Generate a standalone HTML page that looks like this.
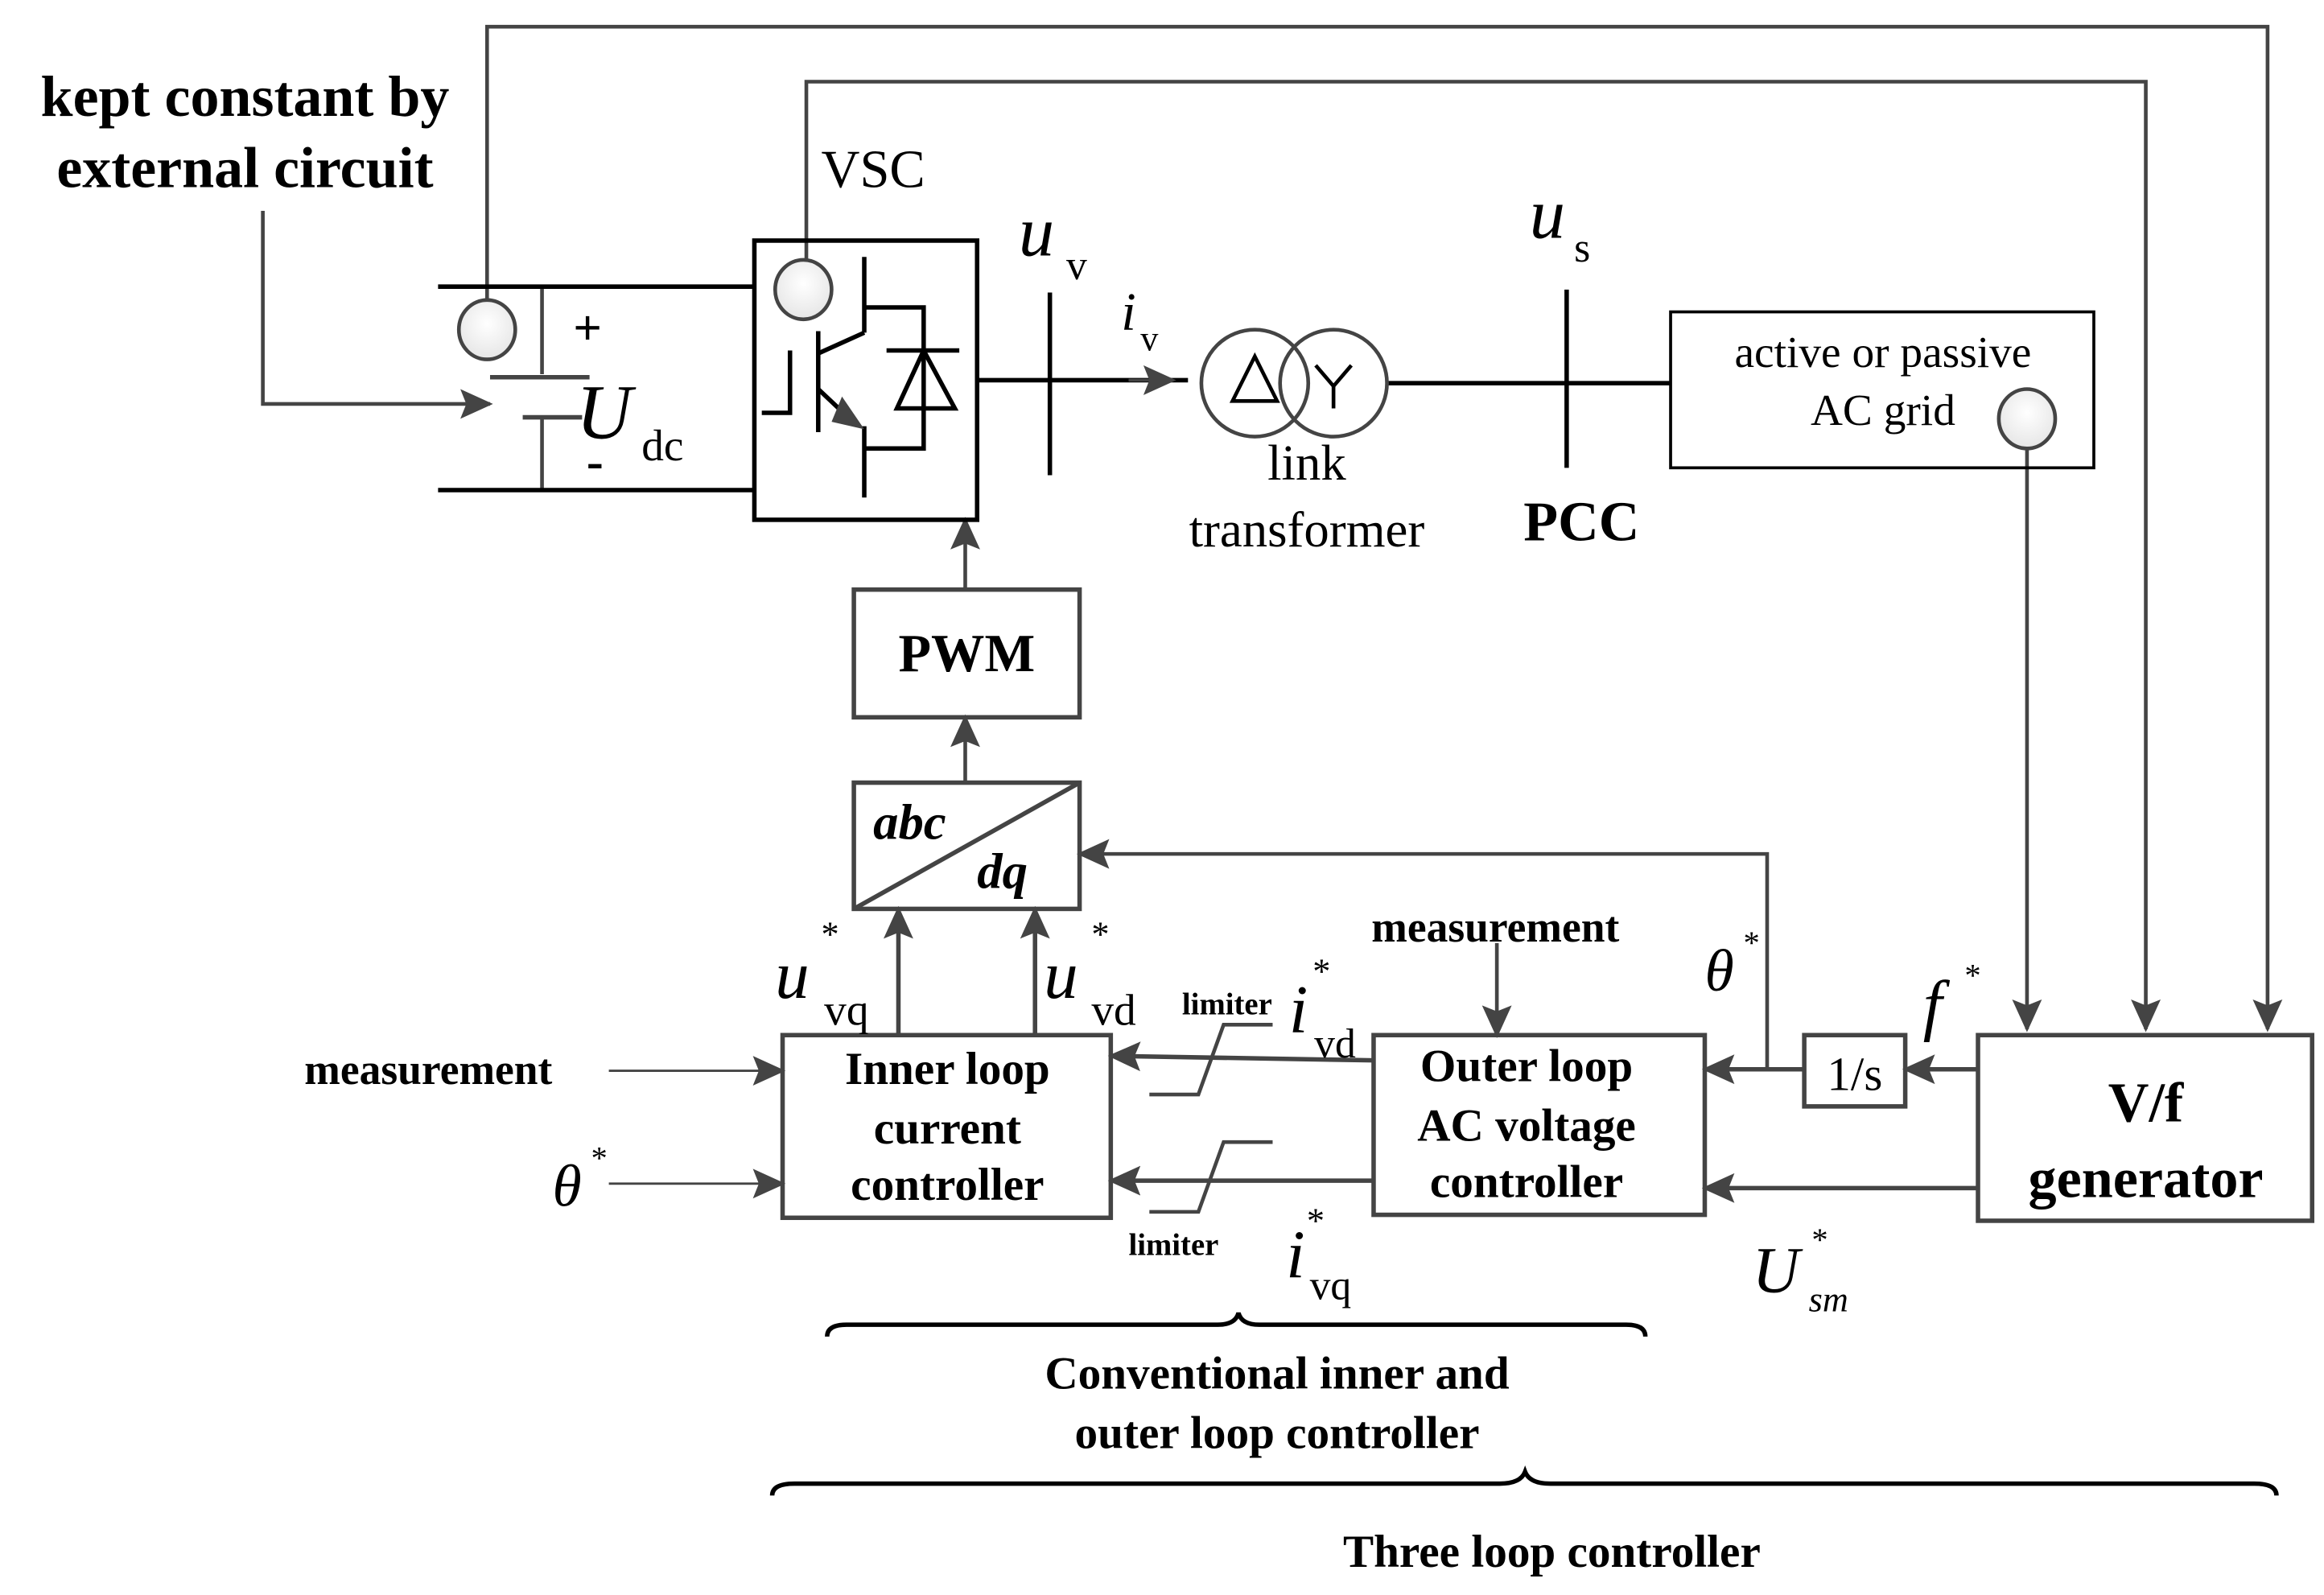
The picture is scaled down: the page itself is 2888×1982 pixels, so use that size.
<!DOCTYPE html>
<html><head><meta charset="utf-8"><style>
html,body{margin:0;padding:0;background:#fff;}
svg{display:block;}
text{font-family:"Liberation Serif",serif;fill:#000;}
.b{font-weight:bold;}
</style></head><body>
<svg width="2888" height="1982" viewBox="0 0 1565 1074" preserveAspectRatio="none" xmlns="http://www.w3.org/2000/svg">
<defs>
<marker id="A" markerWidth="22" markerHeight="22" refX="20" refY="11" orient="auto" markerUnits="userSpaceOnUse" viewBox="0 0 22 22">
<path d="M0,1 L22,11 L0,21 L4,11 Z" fill="#444"/></marker>
<radialGradient id="g" cx="50%" cy="40%" r="60%"><stop offset="0" stop-color="#fff"/><stop offset="1" stop-color="#e6e6e6"/></radialGradient>
</defs>
<g stroke="#444" stroke-width="2.5" fill="none">
<polyline points="328,203 328,18 1527,18 1527,693" marker-end="url(#A)"/>
<polyline points="543,180 543,55 1445,55 1445,693" marker-end="url(#A)"/>
<polyline points="1365,300 1365,693" marker-end="url(#A)"/>
<polyline points="177,142 177,272 330,272" marker-end="url(#A)"/>
<line x1="365" y1="193" x2="365" y2="252"/><line x1="365" y1="282" x2="365" y2="330"/>
<line x1="330" y1="254" x2="397" y2="254" stroke-width="3"/><line x1="352" y1="281" x2="392" y2="281" stroke-width="3"/>
<line x1="1008" y1="635" x2="1008" y2="697" marker-end="url(#A)"/>
<line x1="410" y1="721" x2="527" y2="721" stroke-width="1.5" marker-end="url(#A)"/>
<line x1="410" y1="797" x2="527" y2="797" stroke-width="1.5" marker-end="url(#A)"/>
<line x1="650" y1="397" x2="650" y2="350" marker-end="url(#A)"/>
<line x1="650" y1="527" x2="650" y2="483" marker-end="url(#A)"/>
<line x1="605" y1="697" x2="605" y2="612" stroke-width="3" marker-end="url(#A)"/>
<line x1="697" y1="697" x2="697" y2="612" stroke-width="3" marker-end="url(#A)"/>
<polyline points="925,714 748,711" stroke-width="3" marker-end="url(#A)"/>
<line x1="925" y1="795" x2="748" y2="795" stroke-width="3" marker-end="url(#A)"/>
<polyline points="774,737 807,737 824,690 857,690"/>
<polyline points="774,816 807,816 824,769 857,769"/>
<line x1="1215" y1="720" x2="1148" y2="720" stroke-width="3" marker-end="url(#A)"/>
<polyline points="1190,720 1190,575 727,575" marker-end="url(#A)"/>
<line x1="1332" y1="720" x2="1283" y2="720" stroke-width="3" marker-end="url(#A)"/>
<line x1="1332" y1="800" x2="1148" y2="800" stroke-width="3" marker-end="url(#A)"/>
<path d="M557,900 Q557,892 570,892 L820,892 Q832,892 834,884 Q836,892 848,892 L1095,892 Q1108,892 1108,900" stroke="#000" stroke-width="3"/>
<path d="M520,1007 Q520,999 535,999 L1010,999 Q1024,999 1027,991 Q1030,999 1044,999 L1518,999 Q1533,999 1533,1007" stroke="#000" stroke-width="3"/>
</g>
<g stroke="#000" stroke-width="3" fill="none">
<line x1="295" y1="193" x2="508" y2="193"/><line x1="295" y1="330" x2="508" y2="330"/>
<rect x="508" y="162" width="150" height="188"/>
<line x1="582" y1="173" x2="582" y2="224"/><line x1="582" y1="224" x2="551" y2="238"/>
<line x1="551" y1="223" x2="551" y2="291"/>
<polyline points="513,278 532,278 532,236"/>
<line x1="582" y1="287" x2="582" y2="335"/>
<line x1="551" y1="262" x2="568" y2="278"/>
<polyline points="582,207 622,207 622,302 582,302"/>
<line x1="597" y1="236" x2="646" y2="236"/>
<polygon points="622,236 604,275 643,275"/>
<line x1="658" y1="256" x2="800" y2="256"/>
<line x1="707" y1="197" x2="707" y2="320"/>
<line x1="935" y1="258" x2="1125" y2="258"/>
<line x1="1055" y1="195" x2="1055" y2="315"/>
<rect x="1125" y="210" width="285" height="105" stroke-width="2"/>
<rect x="575" y="397" width="152" height="86" stroke="#444"/>
<rect x="575" y="527" width="152" height="85" stroke="#444"/>
<line x1="575" y1="612" x2="727" y2="527" stroke="#444"/>
<rect x="527" y="697" width="221" height="123" stroke="#444"/>
<rect x="925" y="697" width="223" height="121" stroke="#444"/>
<rect x="1215" y="697" width="68" height="48" stroke="#444"/>
<rect x="1332" y="697" width="225" height="125" stroke="#444"/>
</g>
<polygon points="582,289 567,267 560,284" fill="#444"/>
<line x1="760" y1="256" x2="790" y2="256" stroke="#444" stroke-width="2" marker-end="url(#A)"/>
<g stroke="#444" stroke-width="2.5" fill="none">
<circle cx="845" cy="258" r="36"/><circle cx="898" cy="258" r="36"/>
<polygon points="845,240 830,270 860,270" stroke="#000"/>
<polyline points="886,246 898,260 910,246" stroke="#000"/><line x1="898" y1="260" x2="898" y2="275" stroke="#000"/>
</g>
<g stroke="#444" stroke-width="2.5" fill="url(#g)">
<ellipse cx="328" cy="222" rx="19" ry="20"/>
<ellipse cx="541" cy="195" rx="19" ry="20"/>
<ellipse cx="1365" cy="282" rx="19" ry="20"/>
</g>
<text x="165" y="78" font-size="39" class="b" text-anchor="middle">kept constant by</text>
<text x="165" y="126" font-size="39" class="b" text-anchor="middle">external circuit</text>
<text x="386" y="232" font-size="34" class="b">+</text>
<text x="395" y="322" font-size="34" class="b">-</text>
<text x="388" y="295" font-size="52" font-style="italic">U</text><text x="432" y="310" font-size="30">dc</text>
<text x="553" y="126" font-size="36">VSC</text>
<text x="686" y="172" font-size="48" font-style="italic">u</text><text x="718" y="188" font-size="28">v</text>
<text x="755" y="222" font-size="36" font-style="italic">i</text><text x="768" y="236" font-size="24">v</text>
<text x="1030" y="160" font-size="48" font-style="italic">u</text><text x="1060" y="176" font-size="28">s</text>
<text x="880" y="323" font-size="34" text-anchor="middle">link</text>
<text x="880" y="368" font-size="34" text-anchor="middle">transformer</text>
<text x="1065" y="364" font-size="38" class="b" text-anchor="middle">PCC</text>
<text x="1268" y="247" font-size="30" text-anchor="middle">active or passive</text>
<text x="1268" y="286" font-size="30" text-anchor="middle">AC grid</text>
<text x="651" y="452" font-size="36" class="b" text-anchor="middle">PWM</text>
<text x="588" y="565" font-size="34" class="b" font-style="italic">abc</text>
<text x="658" y="598" font-size="34" class="b" font-style="italic">dq</text>
<text x="522" y="672" font-size="46" font-style="italic">u</text><text x="553" y="637" font-size="24">*</text><text x="555" y="690" font-size="30">vq</text>
<text x="703" y="672" font-size="46" font-style="italic">u</text><text x="735" y="637" font-size="24">*</text><text x="735" y="690" font-size="30">vd</text>
<text x="638" y="730" font-size="31" class="b" text-anchor="middle">Inner loop</text>
<text x="638" y="770" font-size="31" class="b" text-anchor="middle">current</text>
<text x="638" y="808" font-size="31" class="b" text-anchor="middle">controller</text>
<text x="1028" y="728" font-size="31" class="b" text-anchor="middle">Outer loop</text>
<text x="1028" y="768" font-size="31" class="b" text-anchor="middle">AC voltage</text>
<text x="1028" y="806" font-size="31" class="b" text-anchor="middle">controller</text>
<text x="1007" y="634" font-size="29" class="b" text-anchor="middle">measurement</text>
<text x="205" y="730" font-size="29" class="b">measurement</text>
<text x="372" y="812" font-size="40" font-style="italic">θ</text><text x="398" y="787" font-size="22">*</text>
<text x="1148" y="667" font-size="40" font-style="italic">θ</text><text x="1174" y="642" font-size="22">*</text>
<text x="796" y="683" font-size="21" class="b">limiter</text>
<text x="760" y="845" font-size="21" class="b">limiter</text>
<text x="868" y="695" font-size="46" font-style="italic">i</text><text x="884" y="662" font-size="24">*</text><text x="885" y="712" font-size="28">vd</text>
<text x="866" y="860" font-size="46" font-style="italic">i</text><text x="880" y="830" font-size="24">*</text><text x="882" y="875" font-size="28">vq</text>
<text x="1249" y="734" font-size="32" text-anchor="middle">1/s</text>
<text x="1295" y="692" font-size="46" font-style="italic">f</text><text x="1323" y="664" font-size="22">*</text>
<text x="1445" y="755" font-size="38" class="b" text-anchor="middle">V/f</text>
<text x="1445" y="806" font-size="38" class="b" text-anchor="middle">generator</text>
<text x="1180" y="870" font-size="44" font-style="italic">U</text><text x="1220" y="842" font-size="22">*</text><text x="1218" y="883" font-size="24" font-style="italic">sm</text>
<text x="860" y="935" font-size="31" class="b" text-anchor="middle">Conventional inner and</text>
<text x="860" y="975" font-size="31" class="b" text-anchor="middle">outer loop controller</text>
<text x="1045" y="1055" font-size="31" class="b" text-anchor="middle">Three loop controller</text>
</svg>
</body></html>
